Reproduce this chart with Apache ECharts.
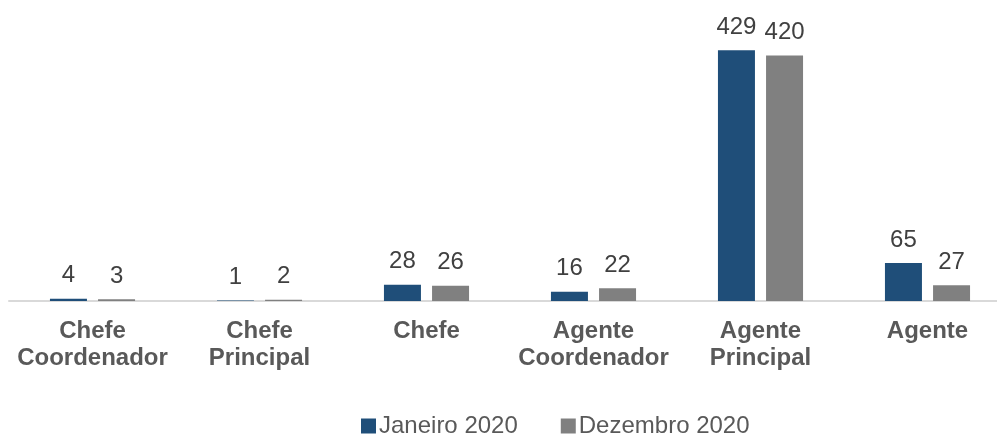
<!DOCTYPE html>
<html>
<head>
<meta charset="utf-8">
<script src="https://cdn.jsdelivr.net/npm/echarts@6/dist/echarts.min.js"></script>
<style>
  html, body { margin: 0; padding: 0; background: #fff; }
  #chart { width: 997px; height: 436px; }
</style>
</head>
<body>
<div id="chart"></div>
<script>
const categories = ['Chefe\nCoordenador', 'Chefe\nPrincipal', 'Chefe', 'Agente\nCoordenador', 'Agente\nPrincipal', 'Agente']
const janeiro = [4, 1, 28, 16, 429, 65]
const dezembro = [3, 2, 26, 22, 420, 27]

const chart = echarts.init(document.getElementById('chart'))

const labelStyle = {
  show: true,
  position: 'top',
  distance: 11,
  color: '#404040',
  fontSize: 24,
  fontFamily: 'Liberation Sans',
}

chart.setOption({
  animation: false,
  grid: { left: 9, width: 1002, top: 38, bottom: 135, containLabel: false, outerBoundsMode: 'none' },
  legend: {
    left: 356,
    bottom: -7,
    itemWidth: 15,
    itemHeight: 15,
    itemGap: 43,
    icon: 'rect',
    textStyle: { color: '#595959', fontSize: 24, fontFamily: 'Liberation Sans', padding: [0, 0, 0, -2] },
    data: ['Janeiro 2020', 'Dezembro 2020'],
  },
  xAxis: {
    type: 'category',
    data: categories,
    axisLine: { lineStyle: { color: '#D9D9D9', width: 2 } },
    axisTick: { show: false },
    axisLabel: {
      interval: 0,
      margin: 17,
      color: '#595959',
      fontSize: 24,
      fontWeight: 'bold',
      lineHeight: 27,
      fontFamily: 'Liberation Sans',
    },
  },
  yAxis: {
    type: 'value',
    min: 0,
    max: 450,
    show: false,
    splitLine: { show: false },
  },
  series: [
    {
      name: 'Janeiro 2020',
      type: 'bar',
      data: janeiro,
      barWidth: 37,
      barGap: '30%',
      itemStyle: { color: '#1F4E79' },
      label: labelStyle,
    },
    {
      name: 'Dezembro 2020',
      type: 'bar',
      data: dezembro,
      barWidth: 37,
      itemStyle: { color: '#808080' },
      label: labelStyle,
    },
  ],
})

window.addEventListener('resize', () => chart.resize())
</script>
</body>
</html>
